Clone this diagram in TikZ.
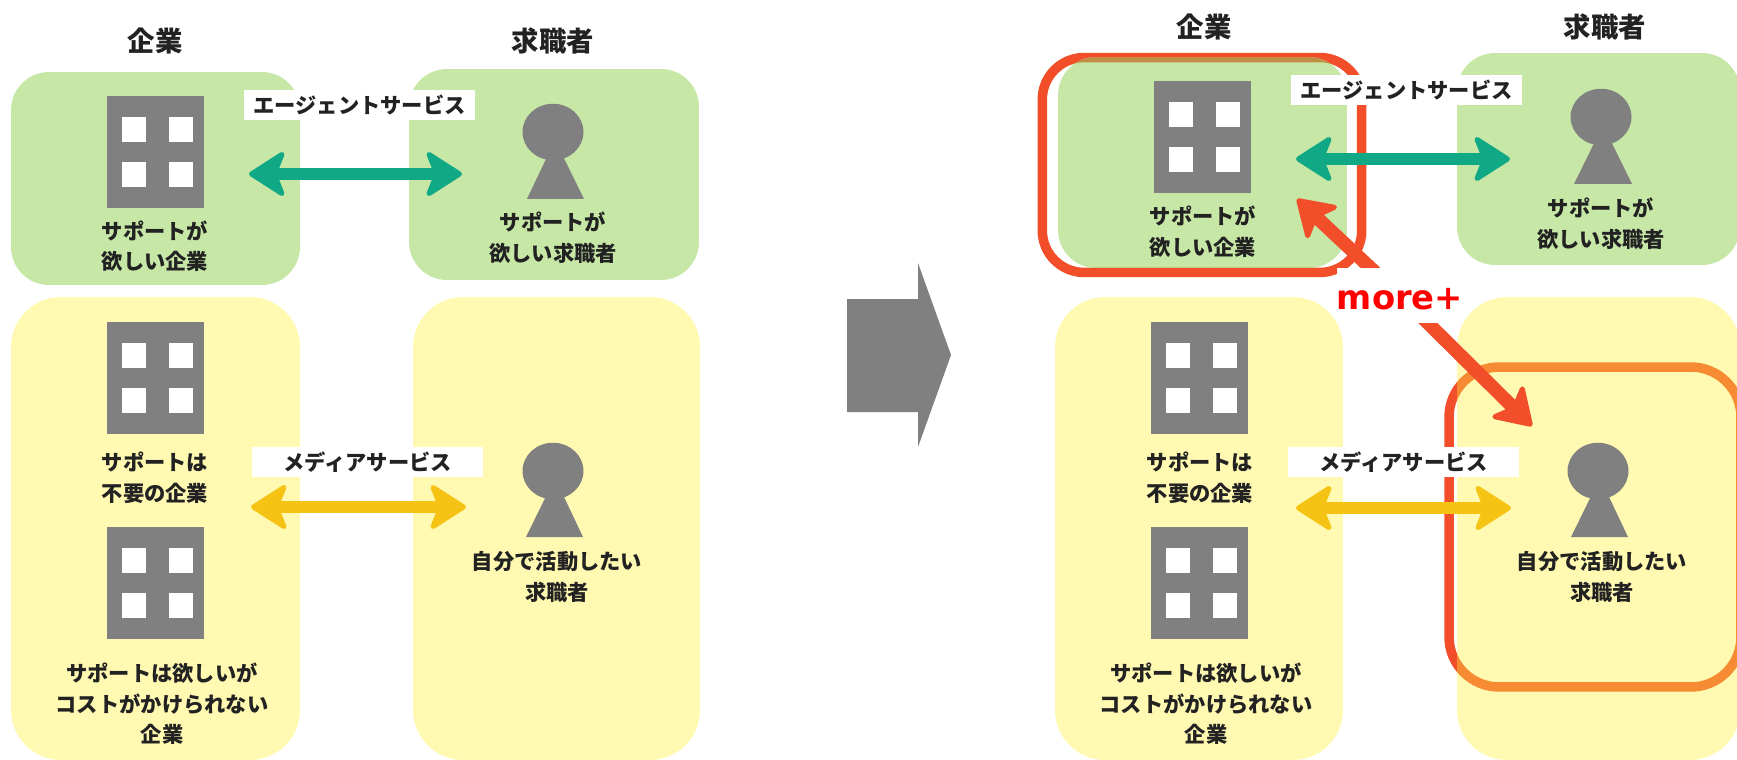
\documentclass[tikz,border=0pt]{standalone}
\usepackage{fontspec}
\setmainfont{Noto Sans CJK JP}
\newfontfamily\morefont{DejaVu Sans}
\usetikzlibrary{arrows.meta}
\usetikzlibrary{shapes.geometric}
\pgfdeclarelayer{panellayer}
\pgfdeclarelayer{edgelayer}
\pgfdeclarelayer{nodelayer}
\pgfsetlayers{panellayer,main,edgelayer,nodelayer}
\definecolor{panel_green}{HTML}{C7E7A7}
\definecolor{panel_yellow}{HTML}{FFF9B1}
\definecolor{link_teal}{HTML}{10A885}
\definecolor{link_gold}{HTML}{F6C315}
\definecolor{ring_red}{HTML}{F24E29}
\definecolor{ring_orange}{HTML}{F78B33}
\definecolor{ring_brown}{HTML}{C28E43}
\definecolor{figure_grey}{HTML}{808080}
\definecolor{text_ink}{HTML}{222222}
\tikzset{>={Stealth[round,length=.8cm,width=1.02cm,inset=.2cm,line width=.1cm]}}
\tikzstyle{green_panel}=[rectangle,fill=panel_green,rounded corners=.76cm,inner sep=0,outer sep=0]
\tikzstyle{yellow_panel}=[rectangle,fill=panel_yellow,rounded corners=1cm,inner sep=0,outer sep=0,minimum height=9.26cm]
\tikzstyle{ring}=[rectangle,line width=.19cm,inner sep=0,outer sep=0]
\tikzstyle{building}=[rectangle,fill=figure_grey,minimum width=1.94cm,minimum height=2.24cm,inner sep=0,outer sep=0]
\tikzstyle{window}=[rectangle,fill=white,minimum width=.48cm,minimum height=.5cm,inner sep=0,outer sep=0]
\tikzstyle{head}=[ellipse,fill=figure_grey,minimum width=1.22cm,minimum height=1.13cm,inner sep=0,outer sep=0]
\tikzstyle{body}=[fill=figure_grey]
\tikzstyle{caption}=[align=center,inner sep=0,text=text_ink,font=\fontsize{12.1}{17.4}\selectfont\bfseries]
\tikzstyle{title}=[inner sep=0,text=text_ink,font=\fontsize{15.6}{18}\selectfont\bfseries]
\tikzstyle{service}=[rectangle,fill=white,minimum height=.6cm,inner sep=0,text=text_ink,font=\fontsize{12.1}{14}\selectfont\bfseries]
\tikzstyle{more}=[rectangle,fill=white,minimum width=2.48cm,minimum height=1.1cm,inner sep=0,text height=.58cm,text depth=0pt,text=red,font=\fontsize{19.2}{22}\morefont\bfseries]
\tikzstyle{link}=[line width=.25cm,<->]
\tikzstyle{pointer}=[line width=.27cm,draw=ring_red,fill=ring_red,->]

\begin{document}
\begin{tikzpicture}[x=.02cm,y=-.02cm]
	\useasboundingbox (0,0) rectangle (1737,760);
	\begin{pgfonlayer}{panellayer}
		\node [style=ring,draw=ring_red,rounded corners=.84cm,minimum width=6.39cm,minimum height=4.3cm] (ringFirm) at (1202,165) {};
		\node [style=ring,draw=ring_red,rounded corners=1cm,minimum width=5.84cm,minimum height=6.4cm] (ringSeeker) at (1595,527) {};
		\node [style=green_panel,minimum width=5.78cm,minimum height=4.26cm] (greenFirmL) at (155.5,178.5) {};
		\node [style=green_panel,minimum width=5.8cm,minimum height=4.22cm] (greenSeekerL) at (554,174.5) {};
		\node [style=yellow_panel,minimum width=5.78cm] (yellowFirmL) at (155.5,528.5) {};
		\node [style=yellow_panel,minimum width=5.74cm] (yellowSeekerL) at (556.5,528.5) {};
		\node [style=green_panel,minimum width=5.78cm,minimum height=4.22cm] (greenFirmR) at (1202.5,162.5) {};
		\node [style=green_panel,minimum width=5.66cm,minimum height=4.24cm] (greenSeekerR) at (1598.5,159) {};
		\node [style=yellow_panel,minimum width=5.76cm] (yellowFirmR) at (1199,528.5) {};
		\node [style=yellow_panel,minimum width=5.66cm] (yellowSeekerR) at (1598.5,528.5) {};
		\begin{scope}
			\path [clip,rounded corners=.76cm] (greenFirmR.south west) rectangle (greenFirmR.north east);
			\node [style=ring,draw=ring_brown,rounded corners=.84cm,minimum width=6.39cm,minimum height=4.3cm] (ringFirmTint) at (1202,165) {};
		\end{scope}
		\begin{scope}
			\path [clip,rounded corners=1cm] (yellowSeekerR.south west) rectangle (yellowSeekerR.north east);
			\node [style=ring,draw=ring_orange,rounded corners=1cm,minimum width=5.84cm,minimum height=6.4cm] (ringSeekerTint) at (1595,527) {};
		\end{scope}
	\end{pgfonlayer}
	% left half
	\node [style=title] (titleFirmL) at (155,41) {企業};
	\node [style=title] (titleSeekerL) at (553,41) {求職者};
	\node [style=building] (bldgA) at (155.5,152) {};
	\node [style=window] (winA1) at (134,129.5) {};
	\node [style=window] (winA2) at (181,129.5) {};
	\node [style=window] (winA3) at (134,174.5) {};
	\node [style=window] (winA4) at (181,174.5) {};
	\node [style=caption] (capA) at (155,246) {サポートが\\欲しい企業};
	\node [style=building] (bldgB) at (155.5,378) {};
	\node [style=window] (winB1) at (134,355.5) {};
	\node [style=window] (winB2) at (181,355.5) {};
	\node [style=window] (winB3) at (134,400.5) {};
	\node [style=window] (winB4) at (181,400.5) {};
	\node [style=caption] (capB) at (155,478) {サポートは\\不要の企業};
	\node [style=building] (bldgC) at (155.5,583) {};
	\node [style=window] (winC1) at (134,560.5) {};
	\node [style=window] (winC2) at (181,560.5) {};
	\node [style=window] (winC3) at (134,605.5) {};
	\node [style=window] (winC4) at (181,605.5) {};
	\node [style=caption] (capC) at (162,704) {サポートは欲しいが\\コストがかけられない\\企業};
	\fill [style=body] (527,199) -- (555,140) -- (584,199) -- cycle;
	\node [style=head] (headA) at (553,132) {};
	\node [style=caption] (capD) at (553,238) {サポートが\\欲しい求職者};
	\fill [style=body] (526,537) -- (555,478) -- (583,537) -- cycle;
	\node [style=head] (headB) at (553,471) {};
	\node [style=caption] (capE) at (557,577) {自分で活動したい\\求職者};
	% middle
	\fill [style=body] (847,299) -- (918,299) -- (918,263) -- (951,355) -- (918,447) -- (918,412) -- (847,412) -- cycle;
	% right half
	\node [style=title] (titleFirmR) at (1204,27) {企業};
	\node [style=title] (titleSeekerR) at (1605,27) {求職者};
	\node [style=building] (bldgD) at (1202.5,137) {};
	\node [style=window] (winD1) at (1181,114.5) {};
	\node [style=window] (winD2) at (1228,114.5) {};
	\node [style=window] (winD3) at (1181,159.5) {};
	\node [style=window] (winD4) at (1228,159.5) {};
	\node [style=caption] (capF) at (1203,231.5) {サポートが\\欲しい企業};
	\node [style=building] (bldgE) at (1199.5,378) {};
	\node [style=window] (winE1) at (1178,355.5) {};
	\node [style=window] (winE2) at (1225,355.5) {};
	\node [style=window] (winE3) at (1178,400.5) {};
	\node [style=window] (winE4) at (1225,400.5) {};
	\node [style=caption] (capG) at (1200,478) {サポートは\\不要の企業};
	\node [style=building] (bldgF) at (1199.5,583) {};
	\node [style=window] (winF1) at (1178,560.5) {};
	\node [style=window] (winF2) at (1225,560.5) {};
	\node [style=window] (winF3) at (1178,605.5) {};
	\node [style=window] (winF4) at (1225,605.5) {};
	\node [style=caption] (capH) at (1206,704) {サポートは欲しいが\\コストがかけられない\\企業};
	\fill [style=body] (1574,184) -- (1603,125) -- (1632,184) -- cycle;
	\node [style=head] (headC) at (1601,117) {};
	\node [style=caption] (capI) at (1601,223.5) {サポートが\\欲しい求職者};
	\fill [style=body] (1571,537) -- (1600,478) -- (1628,537) -- cycle;
	\node [style=head] (headD) at (1598,471) {};
	\node [style=caption] (capJ) at (1602,577) {自分で活動したい\\求職者};
	\coordinate (agentFromL) at (249,174);
	\coordinate (agentToL) at (462,174);
	\coordinate (mediaFromL) at (251,507);
	\coordinate (mediaToL) at (466,507);
	\coordinate (agentFromR) at (1296,159);
	\coordinate (agentToR) at (1510,159);
	\coordinate (mediaFromR) at (1296,508);
	\coordinate (mediaToR) at (1511,508);
	\coordinate (moreFirm) at (1297,199);
	\coordinate (moreSeeker) at (1532,426);
	\begin{pgfonlayer}{nodelayer}
		\node [style=service,minimum width=4.62cm] (agentL) at (359.5,105) {エージェントサービス};
		\node [style=service,minimum width=4.62cm] (mediaL) at (367.5,462) {メディアサービス};
		\node [style=service,minimum width=4.62cm] (agentR) at (1406.5,90) {エージェントサービス};
		\node [style=service,minimum width=4.62cm] (mediaR) at (1403.5,462) {メディアサービス};
		\node [style=more] (moreBox) at (1400,295.5) {more+};
	\end{pgfonlayer}
	\begin{pgfonlayer}{edgelayer}
		\draw [style=link,draw=link_teal,fill=link_teal] (agentFromL) to (agentToL);
		\draw [style=link,draw=link_gold,fill=link_gold] (mediaFromL) to (mediaToL);
		\draw [style=link,draw=link_teal,fill=link_teal] (agentFromR) to (agentToR);
		\draw [style=link,draw=link_gold,fill=link_gold] (mediaFromR) to (mediaToR);
		\draw [style=pointer] (moreBox.center) to (moreFirm);
		\draw [style=pointer] (moreBox.center) to (moreSeeker);
	\end{pgfonlayer}
\end{tikzpicture}
\end{document}
